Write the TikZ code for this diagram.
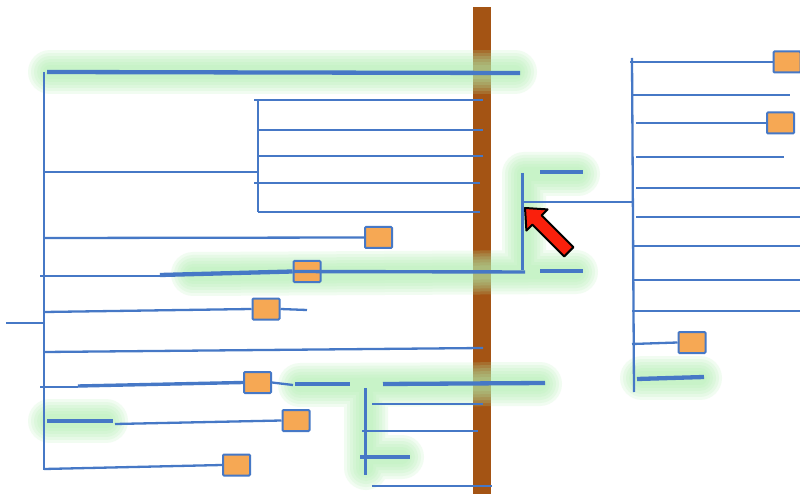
\documentclass[tikz,border=0pt]{standalone}
\usepackage{tikz}
\definecolor{lineblue}{RGB}{70,120,198}
\definecolor{boxorange}{RGB}{246,168,84}
\definecolor{barbrown}{RGB}{164,84,20}
\definecolor{glowgreen}{RGB}{176,240,176}
\definecolor{arrowred}{RGB}{250,32,12}
\tikzset{
  branch/.style={draw=lineblue, line width=2.3pt},
  trunk/.style={draw=lineblue, line width=4.3pt},
  leafbox/.style={draw=lineblue, fill=boxorange, line width=2pt,
    minimum width=27pt, minimum height=21pt, inner sep=0pt, rounded corners=1pt},
  glowline/.style={draw=glowgreen, opacity=0.17, line cap=round, line join=round},
}
% soft highlight built from stacked translucent strokes
\newcommand\glowstroke[1]{\foreach \w in {44,38,32,26,20,14}{\draw[glowline,line width=\w pt] #1;}}
\begin{document}
\begin{tikzpicture}[x=1pt,y=-1pt]
\useasboundingbox (0,0) rectangle (800,494);
\fill[white] (0,0) rectangle (800,494);

% vertical wooden bar
\fill[barbrown] (473,7) rectangle (491,494);

% highlights
\glowstroke{(50,72) -- (515,72)}
\glowstroke{(193,274) -- (576,272) (524,174) -- (578,174) (524,174) -- (524,272)}
\glowstroke{(300,385) -- (540,384) (366,394) -- (366,468) (366,457) -- (402,457)}
\glowstroke{(50,421) -- (106,421)}
\glowstroke{(642,378) -- (700,378)}

% leaf boxes
\node[leafbox] (b1) at (378.5,237.5) {};
\node[leafbox] (b2) at (307,271.5) {};
\node[leafbox] (b3) at (266,309) {};
\node[leafbox] (b4) at (257.5,382.5) {};
\node[leafbox] (b5) at (296,420.5) {};
\node[leafbox] (b6) at (236.5,465) {};
\node[leafbox] (b7) at (787,62) {};
\node[leafbox] (b8) at (780.5,123) {};
\node[leafbox] (b9) at (692,342.5) {};

% left tree
\coordinate (lroot) at (44,323);
\draw[branch] (6,323) -- (lroot);
\draw[branch] (44,72) -- (44,470);
\draw[trunk] (47,72) -- (520,73);
\draw[branch] (44,172) -- (258,172);
\draw[branch] (258,100) -- (258,212);
\draw[branch] (254,100) -- (483,100);
\draw[branch] (258,130) -- (483,130);
\draw[branch] (258,156) -- (483,156);
\draw[branch] (254,183) -- (480,183);
\draw[branch] (258,212) -- (480,212);
\draw[branch] (44,238) -- (b1.west);
\draw[branch] (40,276) -- (160,276);
\draw[trunk] (160,275) -- (b2.west);
\draw[line width=3.4pt, draw=lineblue] (b2.west) -- (525,272);
\draw[trunk] (540,271) -- (583,271);
\draw[branch] (44,312) -- (b3.west);
\draw[branch] (b3.east) -- (307,310);
\draw[branch] (44,352) -- (483,348);
\draw[branch] (40,387) -- (78,387);
\draw[line width=3.4pt, draw=lineblue] (78,386) -- (b4.west);
\draw[branch] (b4.east) -- (293,385);
\draw[trunk] (295,384) -- (350,384);
\draw[trunk] (383,384) -- (545,383);
\draw[line width=3pt, draw=lineblue] (365,388) -- (365,475);
\draw[branch] (372,404) -- (483,404);
\draw[branch] (362,431) -- (478,431);
\draw[trunk] (360,457) -- (410,457);
\draw[branch] (372,486) -- (492,486);
\draw[trunk] (47,421) -- (113,421);
\draw[branch] (115,424) -- (b5.west);
\draw[branch] (44,469) -- (b6.west);

% small bracket beside the bar
\draw[line width=3pt, draw=lineblue] (522,173) -- (522,270);
\draw[trunk] (540,172) -- (583,172);

% right tree
\coordinate (rroot) at (632,202);
\draw[branch] (522,202) -- (rroot);
\draw[branch] (632,58) -- (634,392);
\draw[branch] (630,62) -- (b7.west);
\draw[branch] (632,95) -- (790,95);
\draw[branch] (636,123) -- (b8.west);
\draw[branch] (636,157) -- (784,157);
\draw[branch] (636,188) -- (800,188);
\draw[branch] (636,217) -- (800,217);
\draw[branch] (632,246) -- (800,246);
\draw[branch] (632,280) -- (800,280);
\draw[branch] (632,311) -- (800,311);
\draw[branch] (632,344) -- (b9.west);
\draw[trunk] (637,379) -- (704,377);

% pointer arrow
\draw[fill=arrowred, draw=black, line width=2pt, line join=round]
  (525,208) -- (547.6,209.4) -- (541.6,215.4) -- (573.4,247.2)
  -- (564.2,256.4) -- (532.4,224.6) -- (526.4,230.6) -- cycle;
\end{tikzpicture}
\end{document}
